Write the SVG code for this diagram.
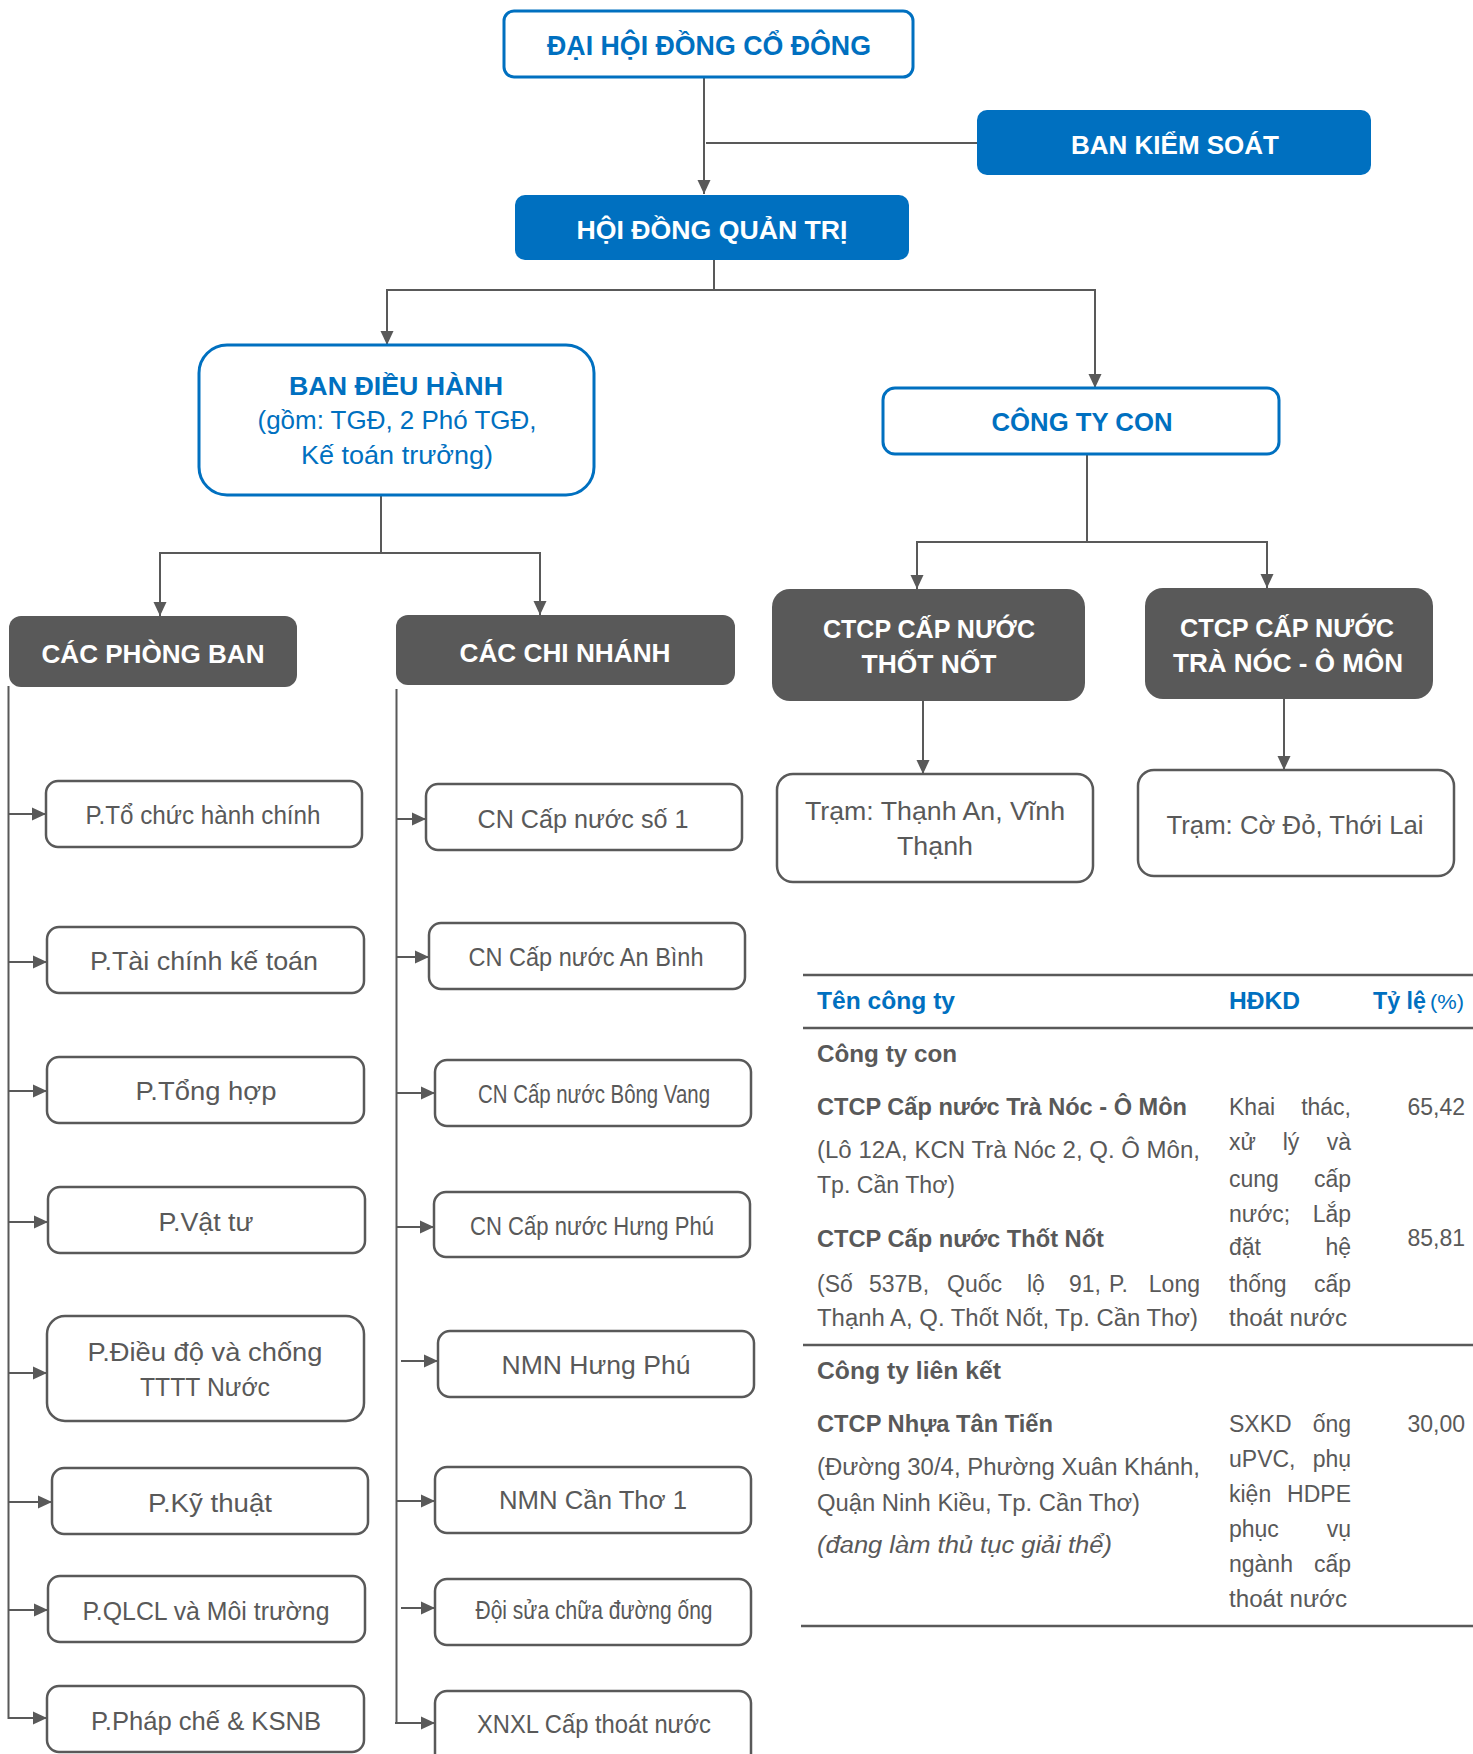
<svg xmlns="http://www.w3.org/2000/svg" width="1473" height="1754" viewBox="0 0 1473 1754">
<defs>
<style>
text{font-family:"Liberation Sans",Arial,sans-serif}
.ln{stroke:#595959;stroke-width:2;fill:none}
.ar{marker-end:url(#ah)}
.bb{fill:#fff;stroke:#0070C0;stroke-width:3}
.bf{fill:#0070C0}
.gf{fill:#595959}
.gb{fill:#fff;stroke:#595959;stroke-width:2.5}
.hb{font-weight:bold;font-size:25px;text-anchor:middle}
.wh{fill:#fff}
.bx{font-size:26px;fill:#595959;text-anchor:middle}
.tb{font-size:23px;fill:#595959}
.tbb{font-size:24px;fill:#595959;font-weight:bold}
.blue{fill:#0070C0}
text.blue{fill:#0070C0}
.tl{stroke:#595959;stroke-width:2.5}
</style>
<marker id="ah" viewBox="0 0 14 14" refX="14" refY="7" markerWidth="14" markerHeight="14" markerUnits="userSpaceOnUse" orient="auto">
<path d="M0,0.5 L14,7 L0,13.5 z" fill="#595959"/>
</marker>
</defs>
<rect width="1473" height="1754" fill="#fff"/>

<g id="connectors">
<path class="ln ar" d="M704,77 V194"/>
<path class="ln" d="M706,143 H977"/>
<path class="ln" d="M714,260 V290 M386,290 H1096"/>
<path class="ln ar" d="M387,290 V345"/>
<path class="ln ar" d="M1095,290 V388"/>
<path class="ln" d="M381,495 V553 M159,553 H541"/>
<path class="ln ar" d="M160,553 V616"/>
<path class="ln ar" d="M540,553 V615"/>
<path class="ln" d="M1087,454 V542 M916,542 H1268"/>
<path class="ln ar" d="M917,542 V589"/>
<path class="ln ar" d="M1267,542 V588"/>
<path class="ln ar" d="M923,701 V774"/>
<path class="ln ar" d="M1284,699 V770"/>
<path class="ln" d="M8.5,686 V1719"/>
<path class="ln" d="M396.5,689 V1724"/>
<path class="ln ar" d="M8.5,814 H46"/>
<path class="ln ar" d="M8.5,962 H47"/>
<path class="ln ar" d="M8.5,1091 H47"/>
<path class="ln ar" d="M8.5,1222 H48"/>
<path class="ln ar" d="M8.5,1373 H47"/>
<path class="ln ar" d="M8.5,1502 H52"/>
<path class="ln ar" d="M8.5,1610 H48"/>
<path class="ln ar" d="M8.5,1718 H47"/>
<path class="ln ar" d="M396.5,819 H426"/>
<path class="ln ar" d="M396.5,957 H429"/>
<path class="ln ar" d="M396.5,1093 H435"/>
<path class="ln ar" d="M396.5,1227 H434"/>
<path class="ln ar" d="M401,1361 H438"/>
<path class="ln ar" d="M396.5,1501 H435"/>
<path class="ln ar" d="M401,1608 H435"/>
<path class="ln ar" d="M395,1723 H435"/>
</g>

<g id="dhdcd">
<rect class="bb" x="504" y="11" width="409" height="66" rx="10"/>
<text class="hb blue" x="709" y="55" style="font-size:28px" textLength="324" lengthAdjust="spacingAndGlyphs">ĐẠI HỘI ĐỒNG CỔ ĐÔNG</text>
</g>
<g id="bks">
<rect class="bf" x="977" y="110" width="394" height="65" rx="10"/>
<text class="hb wh" x="1175" y="154" style="font-size:26px" textLength="208" lengthAdjust="spacingAndGlyphs">BAN KIỂM SOÁT</text>
</g>
<g id="hdqt">
<rect class="bf" x="515" y="195" width="394" height="65" rx="10"/>
<text class="hb wh" x="712" y="239" textLength="271" lengthAdjust="spacingAndGlyphs">HỘI ĐỒNG QUẢN TRỊ</text>
</g>
<g id="bdh">
<rect class="bb" x="199" y="345" width="395" height="150" rx="28"/>
<text class="hb blue" x="396" y="395" textLength="214" lengthAdjust="spacingAndGlyphs">BAN ĐIỀU HÀNH</text>
<text class="blue" x="397" y="429" style="font-size:26px;text-anchor:middle" textLength="279" lengthAdjust="spacingAndGlyphs">(gồm: TGĐ, 2 Phó TGĐ,</text>
<text class="blue" x="397" y="464" style="font-size:26px;text-anchor:middle" textLength="192" lengthAdjust="spacingAndGlyphs">Kế toán trưởng)</text>
</g>
<g id="ctc">
<rect class="bb" x="883" y="388" width="396" height="66" rx="12"/>
<text class="hb blue" x="1082" y="431" textLength="181" lengthAdjust="spacingAndGlyphs">CÔNG TY CON</text>
</g>
<g id="cpb">
<rect class="gf" x="9" y="616" width="288" height="71" rx="12"/>
<text class="hb wh" x="153" y="663" style="font-size:26px" textLength="223" lengthAdjust="spacingAndGlyphs">CÁC PHÒNG BAN</text>
</g>
<g id="ccn">
<rect class="gf" x="396" y="615" width="339" height="70" rx="12"/>
<text class="hb wh" x="565" y="662" style="font-size:26px" textLength="211" lengthAdjust="spacingAndGlyphs">CÁC CHI NHÁNH</text>
</g>
<g id="ctcp-thotnot">
<rect class="gf" x="772" y="589" width="313" height="112" rx="18"/>
<text class="hb wh" x="929" y="638" style="font-size:26px" textLength="212" lengthAdjust="spacingAndGlyphs">CTCP CẤP NƯỚC</text>
<text class="hb wh" x="929" y="673" style="font-size:26px" textLength="135" lengthAdjust="spacingAndGlyphs">THỐT NỐT</text>
</g>
<g id="ctcp-tranoc">
<rect class="gf" x="1145" y="588" width="288" height="111" rx="18"/>
<text class="hb wh" x="1287" y="637" style="font-size:26px" textLength="214" lengthAdjust="spacingAndGlyphs">CTCP CẤP NƯỚC</text>
<text class="hb wh" x="1288" y="672" style="font-size:26px" textLength="230" lengthAdjust="spacingAndGlyphs">TRÀ NÓC - Ô MÔN</text>
</g>
<g id="tram-thanhan">
<rect class="gb" x="777" y="774" width="316" height="108" rx="16"/>
<text class="bx" x="935" y="820" textLength="260" lengthAdjust="spacingAndGlyphs">Trạm: Thạnh An, Vĩnh</text>
<text class="bx" x="935" y="855" textLength="76" lengthAdjust="spacingAndGlyphs">Thạnh</text>
</g>
<g id="tram-codo">
<rect class="gb" x="1138" y="770" width="316" height="106" rx="16"/>
<text class="bx" x="1295" y="834" textLength="257" lengthAdjust="spacingAndGlyphs">Trạm: Cờ Đỏ, Thới Lai</text>
</g>

<g id="p1"><rect class="gb" x="46" y="781" width="316" height="66" rx="12"/>
<text class="bx" x="203" y="824" textLength="235" lengthAdjust="spacingAndGlyphs">P.Tổ chức hành chính</text></g>
<g id="p2"><rect class="gb" x="47" y="927" width="317" height="66" rx="12"/>
<text class="bx" x="204" y="970" textLength="228" lengthAdjust="spacingAndGlyphs">P.Tài chính kế toán</text></g>
<g id="p3"><rect class="gb" x="47" y="1057" width="317" height="66" rx="12"/>
<text class="bx" x="206" y="1100" textLength="141" lengthAdjust="spacingAndGlyphs">P.Tổng hợp</text></g>
<g id="p4"><rect class="gb" x="48" y="1187" width="317" height="66" rx="12"/>
<text class="bx" x="206" y="1231" textLength="95" lengthAdjust="spacingAndGlyphs">P.Vật tư</text></g>
<g id="p5"><rect class="gb" x="47" y="1316" width="317" height="105" rx="18"/>
<text class="bx" x="205" y="1361" textLength="235" lengthAdjust="spacingAndGlyphs">P.Điều độ và chống</text>
<text class="bx" x="205" y="1396" textLength="130" lengthAdjust="spacingAndGlyphs">TTTT Nước</text></g>
<g id="p6"><rect class="gb" x="52" y="1468" width="316" height="66" rx="12"/>
<text class="bx" x="210" y="1512" textLength="124" lengthAdjust="spacingAndGlyphs">P.Kỹ thuật</text></g>
<g id="p7"><rect class="gb" x="48" y="1576" width="317" height="66" rx="12"/>
<text class="bx" x="206" y="1620" textLength="247" lengthAdjust="spacingAndGlyphs">P.QLCL và Môi trường</text></g>
<g id="p8"><rect class="gb" x="47" y="1686" width="317" height="66" rx="12"/>
<text class="bx" x="206" y="1730" textLength="230" lengthAdjust="spacingAndGlyphs">P.Pháp chế &amp; KSNB</text></g>

<g id="cn1"><rect class="gb" x="426" y="784" width="316" height="66" rx="12"/>
<text class="bx" x="583" y="828" textLength="211" lengthAdjust="spacingAndGlyphs">CN Cấp nước số 1</text></g>
<g id="cn2"><rect class="gb" x="429" y="923" width="316" height="66" rx="12"/>
<text class="bx" x="586" y="966" textLength="235" lengthAdjust="spacingAndGlyphs">CN Cấp nước An Bình</text></g>
<g id="cn3"><rect class="gb" x="435" y="1060" width="316" height="66" rx="12"/>
<text class="bx" x="594" y="1103" textLength="232" lengthAdjust="spacingAndGlyphs">CN Cấp nước Bông Vang</text></g>
<g id="cn4"><rect class="gb" x="434" y="1192" width="316" height="65" rx="12"/>
<text class="bx" x="592" y="1235" textLength="244" lengthAdjust="spacingAndGlyphs">CN Cấp nước Hưng Phú</text></g>
<g id="cn5"><rect class="gb" x="438" y="1331" width="316" height="66" rx="12"/>
<text class="bx" x="596" y="1374" textLength="189" lengthAdjust="spacingAndGlyphs">NMN Hưng Phú</text></g>
<g id="cn6"><rect class="gb" x="435" y="1467" width="316" height="66" rx="12"/>
<text class="bx" x="593" y="1509" textLength="188" lengthAdjust="spacingAndGlyphs">NMN Cần Thơ 1</text></g>
<g id="cn7"><rect class="gb" x="435" y="1579" width="316" height="66" rx="12"/>
<text class="bx" x="594" y="1619" textLength="237" lengthAdjust="spacingAndGlyphs">Đội sửa chữa đường ống</text></g>
<g id="cn8"><rect class="gb" x="435" y="1691" width="316" height="80" rx="12"/>
<text class="bx" x="594" y="1733" textLength="234" lengthAdjust="spacingAndGlyphs">XNXL Cấp thoát nước</text></g>

<g id="table">
<line class="tl" x1="803" y1="975" x2="1473" y2="975"/>
<line class="tl" x1="803" y1="1028" x2="1473" y2="1028"/>
<line class="tl" x1="803" y1="1345" x2="1473" y2="1345"/>
<line class="tl" x1="801" y1="1626" x2="1473" y2="1626"/>
<text class="tbb blue" x="817" y="1009" textLength="138" lengthAdjust="spacingAndGlyphs">Tên công ty</text>
<text class="tbb blue" x="1229" y="1009" textLength="71" lengthAdjust="spacingAndGlyphs">HĐKD</text>
<text class="tbb blue" x="1373" y="1009" textLength="53" lengthAdjust="spacingAndGlyphs">Tỷ lệ</text>
<text class="blue" x="1430" y="1009" style="font-size:21px" textLength="34" lengthAdjust="spacingAndGlyphs">(%)</text>

<text class="tbb" x="817" y="1062" textLength="140" lengthAdjust="spacingAndGlyphs">Công ty con</text>
<text class="tbb" x="817" y="1115" textLength="370" lengthAdjust="spacingAndGlyphs">CTCP Cấp nước Trà Nóc - Ô Môn</text>
<text class="tb" x="817" y="1158" textLength="383" lengthAdjust="spacingAndGlyphs">(Lô 12A, KCN Trà Nóc 2, Q. Ô Môn,</text>
<text class="tb" x="817" y="1193" textLength="138" lengthAdjust="spacingAndGlyphs">Tp. Cần Thơ)</text>
<text class="tbb" x="817" y="1247" textLength="287" lengthAdjust="spacingAndGlyphs">CTCP Cấp nước Thốt Nốt</text>
<text class="tb" y="1292"><tspan x="817">(Số</tspan><tspan x="869">537B,</tspan><tspan x="947">Quốc</tspan><tspan x="1027">lộ</tspan><tspan x="1069">91,</tspan><tspan x="1109">P.</tspan><tspan x="1200" text-anchor="end">Long</tspan></text>
<text class="tb" x="817" y="1326" textLength="381" lengthAdjust="spacingAndGlyphs">Thạnh A, Q. Thốt Nốt, Tp. Cần Thơ)</text>

<text class="tb" y="1115"><tspan x="1229">Khai</tspan><tspan x="1351" text-anchor="end">thác,</tspan></text>
<text class="tb" y="1150"><tspan x="1229">xử</tspan><tspan x="1291" text-anchor="middle">lý</tspan><tspan x="1351" text-anchor="end">và</tspan></text>
<text class="tb" y="1187"><tspan x="1229">cung</tspan><tspan x="1351" text-anchor="end">cấp</tspan></text>
<text class="tb" y="1222"><tspan x="1229">nước;</tspan><tspan x="1351" text-anchor="end">Lắp</tspan></text>
<text class="tb" y="1255"><tspan x="1229">đặt</tspan><tspan x="1351" text-anchor="end">hệ</tspan></text>
<text class="tb" y="1292"><tspan x="1229">thống</tspan><tspan x="1351" text-anchor="end">cấp</tspan></text>
<text class="tb" x="1229" y="1326" textLength="118" lengthAdjust="spacingAndGlyphs">thoát nước</text>

<text class="tb" x="1465" y="1115" text-anchor="end">65,42</text>
<text class="tb" x="1465" y="1246" text-anchor="end">85,81</text>

<text class="tbb" x="817" y="1379" textLength="184" lengthAdjust="spacingAndGlyphs">Công ty liên kết</text>
<text class="tbb" x="817" y="1432" textLength="236" lengthAdjust="spacingAndGlyphs">CTCP Nhựa Tân Tiến</text>
<text class="tb" x="817" y="1475" textLength="383" lengthAdjust="spacingAndGlyphs">(Đường 30/4, Phường Xuân Khánh,</text>
<text class="tb" x="817" y="1511" textLength="323" lengthAdjust="spacingAndGlyphs">Quận Ninh Kiều, Tp. Cần Thơ)</text>
<text class="tb" x="817" y="1553" font-style="italic" textLength="295" lengthAdjust="spacingAndGlyphs">(đang làm thủ tục giải thể)</text>

<text class="tb" y="1432"><tspan x="1229">SXKD</tspan><tspan x="1351" text-anchor="end">ống</tspan></text>
<text class="tb" y="1467"><tspan x="1229">uPVC,</tspan><tspan x="1351" text-anchor="end">phụ</tspan></text>
<text class="tb" y="1502"><tspan x="1229">kiện</tspan><tspan x="1351" text-anchor="end">HDPE</tspan></text>
<text class="tb" y="1537"><tspan x="1229">phục</tspan><tspan x="1351" text-anchor="end">vụ</tspan></text>
<text class="tb" y="1572"><tspan x="1229">ngành</tspan><tspan x="1351" text-anchor="end">cấp</tspan></text>
<text class="tb" x="1229" y="1607" textLength="118" lengthAdjust="spacingAndGlyphs">thoát nước</text>
<text class="tb" x="1465" y="1432" text-anchor="end">30,00</text>
</g>
</svg>
